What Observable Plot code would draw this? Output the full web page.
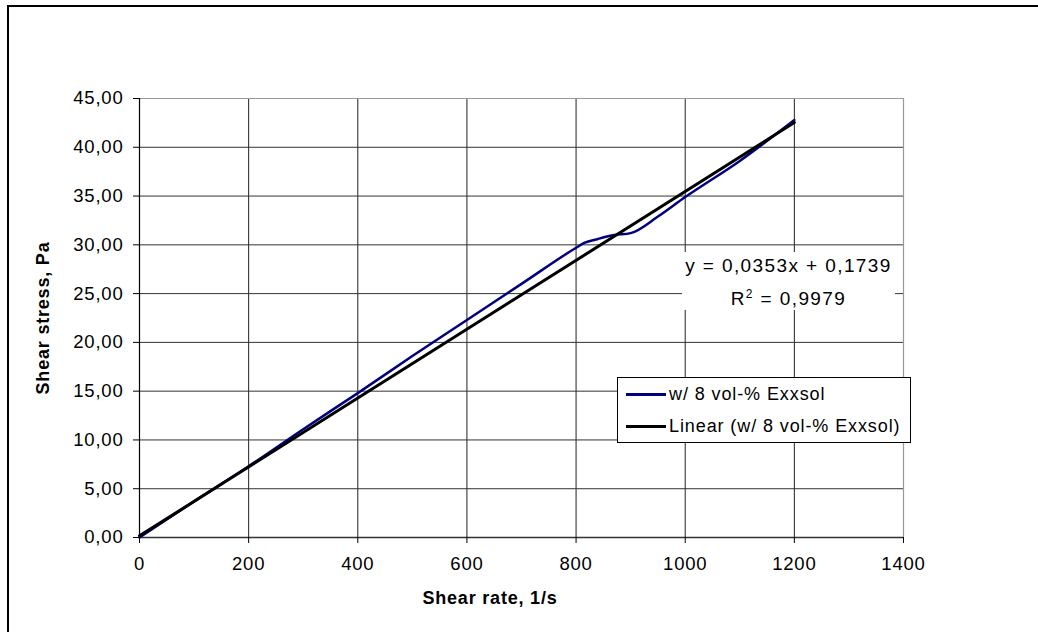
<!DOCTYPE html>
<html>
<head>
<meta charset="utf-8">
<script src="https://cdn.jsdelivr.net/npm/d3@7"></script>
<script src="https://cdn.jsdelivr.net/npm/@observablehq/plot@0.6"></script>
<style>
  html, body { margin: 0; padding: 0; background: #fff; }
  #wrap { position: relative; width: 1038px; height: 632px; overflow: hidden; font-family: "Liberation Sans", Arial, sans-serif; }
  #frame { position: absolute; left: 7px; top: 5px; width: 1100px; height: 700px; border-top: 2px solid #000; border-left: 2px solid #000; }
  .title { position: absolute; font-weight: bold; font-size: 18px; letter-spacing: 0.8px; color: #000; white-space: nowrap; }
  #legend { position: absolute; left: 617px; top: 377px; width: 292px; height: 64px; border: 1px solid #000; background: #fff; font-size: 18px; letter-spacing: 0.9px; }
  .entry { position: absolute; left: 8px; height: 20px; white-space: nowrap; }
  .sw { position: absolute; left: 0; top: 9px; width: 40px; height: 3px; }
  .lab { position: absolute; left: 43px; top: 0; line-height: 20px; }
  #eq { position: absolute; left: 682px; top: 252px; width: 213px; height: 58px; background: #fff; font-size: 19px; letter-spacing: 1.4px; text-align: center; line-height: 28px; white-space: nowrap; }
  svg text { font-family: "Liberation Sans", Arial, sans-serif; }
</style>
</head>
<body>
<div id="wrap"></div>
<script>
// Measured data (blue curve)
const shearRate = [0, 100, 200, 300, 400, 500, 600, 700, 800, 815, 840, 870, 900, 950, 1000, 1100, 1200];
const shearStress = [0, 3.7, 7.3, 11.1, 14.8, 18.6, 22.3, 26.0, 29.7, 30.2, 30.6, 31.0, 31.2, 32.9, 34.9, 38.6, 42.8];
// Linear trendline endpoints
const trendRate = [0, 1200];
const trendStress = [0.17, 42.53];
const xTicks = [0, 200, 400, 600, 800, 1000, 1200, 1400];
const yTicks = [0, 5, 10, 15, 20, 25, 30, 35, 40, 45];
const seriesName = "w/ 8 vol-% Exxsol";
const trendName = "Linear (w/ 8 vol-% Exxsol)";
const eqLine1 = "y = 0,0353x + 0,1739";
const eqLine2 = "R<sup style='font-size:12px'>2</sup> = 0,9979";

const data = shearRate.map((x, i) => ({x, y: shearStress[i]}));
const trend = trendRate.map((x, i) => ({x, y: trendStress[i]}));
const fmtY = d => d3.format(".2f")(d).replace(".", ",");

const chart = Plot.plot({
  width: 1038,
  height: 632,
  marginLeft: 139,
  marginRight: 135,
  marginTop: 98,
  marginBottom: 95,
  style: {background: "transparent", overflow: "visible"},
  x: {domain: [0, 1400], ticks: xTicks},
  y: {domain: [0, 45], ticks: yTicks},
  marks: [
    Plot.gridX(xTicks.slice(1, -1), {stroke: "#222", strokeOpacity: 1, strokeWidth: 1}),
    Plot.gridY(yTicks.slice(1, -1), {stroke: "#333", strokeOpacity: 1, strokeWidth: 1}),
    Plot.ruleY([45], {stroke: "#999", strokeWidth: 1.2}),
    Plot.ruleX([1400], {stroke: "#999", strokeWidth: 1.2}),
    Plot.ruleY([0], {stroke: "#333", strokeWidth: 1.5}),
    Plot.ruleX([0], {stroke: "#000", strokeWidth: 1.2}),
    Plot.axisX({ticks: xTicks, tickSize: 6, tickPadding: 13, fontSize: 18.5, label: null, tickFormat: d => String(d), stroke: "#000"}),
    Plot.axisY({ticks: yTicks, tickSize: 6, tickPadding: 10, fontSize: 18.5, label: null, tickFormat: fmtY, stroke: "#000"}),
    Plot.line(data, {x: "x", y: "y", stroke: "#000080", strokeWidth: 2.5, curve: "monotone-x"}),
    Plot.line(trend, {x: "x", y: "y", stroke: "#000", strokeWidth: 3})
  ]
});
chart.style.position = "absolute";
chart.style.left = "0px";
chart.style.top = "0px";
chart.querySelectorAll("g[aria-label='x-axis tick label'] text, g[aria-label='y-axis tick label'] text").forEach(t => t.style.letterSpacing = "0.8px");
chart.querySelectorAll("text").forEach(t => { t.setAttribute("fill", "#000"); });

const wrap = document.getElementById("wrap");
const frame = document.createElement("div");
frame.id = "frame";
wrap.appendChild(frame);
wrap.appendChild(chart);

const eq = document.createElement("div");
eq.id = "eq";
eq.innerHTML = eqLine1 + "<br>" + eqLine2;
wrap.appendChild(eq);

const legend = document.createElement("div");
legend.id = "legend";
legend.innerHTML =
  `<div class="entry" style="top:6px"><div class="sw" style="background:#000080"></div><div class="lab">${seriesName}</div></div>` +
  `<div class="entry" style="top:38px"><div class="sw" style="background:#000"></div><div class="lab">${trendName}</div></div>`;
wrap.appendChild(legend);

const xt = document.createElement("div");
xt.className = "title";
xt.textContent = "Shear rate, 1/s";
xt.style.left = "490px"; xt.style.top = "598px"; xt.style.transform = "translate(-50%, -50%)";
wrap.appendChild(xt);

const yt = document.createElement("div");
yt.className = "title";
yt.textContent = "Shear stress, Pa";
yt.style.left = "43px"; yt.style.top = "318px"; yt.style.transform = "translate(-50%, -50%) rotate(-90deg)";
wrap.appendChild(yt);
</script>
</body>
</html>
